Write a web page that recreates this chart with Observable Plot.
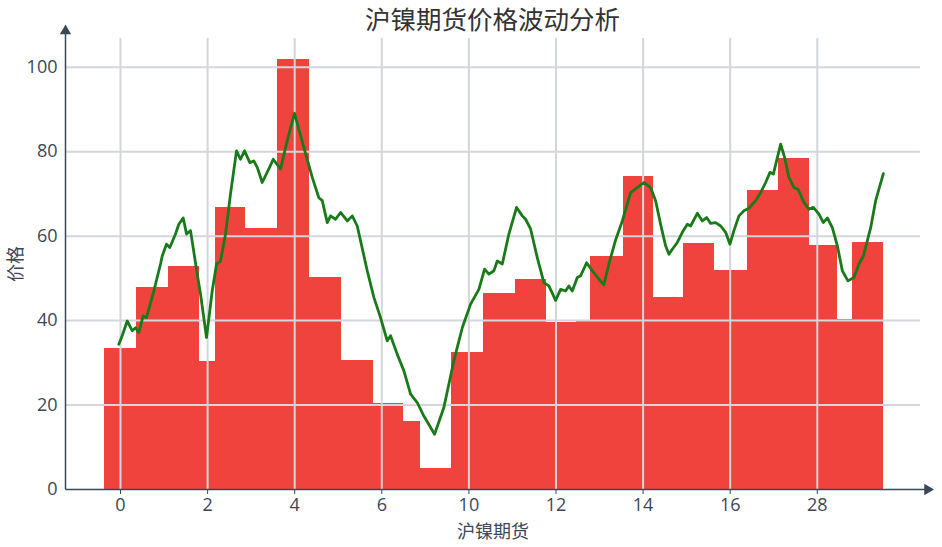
<!DOCTYPE html>
<html>
<head>
<meta charset="utf-8">
<script src="https://cdn.jsdelivr.net/npm/d3@7"></script>
<script src="https://cdn.jsdelivr.net/npm/@observablehq/plot@0.6"></script>
<style>
  html, body { margin: 0; padding: 0; background: #fff; }
  #wrap { position: relative; width: 942px; height: 547px; overflow: hidden; }
  #title { position: absolute; left: 65px; width: 855px; top: 1px; text-align: center;
    font-family: "Noto Sans CJK SC", "Noto Sans", sans-serif; font-weight: 400; font-size: 25.5px;
    line-height: 34px; color: #333; z-index: 2; }
  #chart { position: absolute; left: 0; top: 0; }
</style>
</head>
<body>
<div id="wrap">
  <div id="title">沪镍期货价格波动分析</div>
  <div id="chart"></div>
</div>
<script>
// ---- data ----
const xTicks = [0, 2, 4, 6, 8, 10, 12, 14, 16];
const xTickLabels = ["0", "2", "4", "6", "10", "12", "14", "16", "28"];
const yTicks = [0, 20, 40, 60, 80, 100];

const barStart = [-0.367, 0.367, 1.109, 1.814, 2.182, 2.871, 3.599, 4.348, 5.071, 5.811, 6.507, 6.890, 7.595, 8.344, 9.072, 9.784, 10.473, 10.795, 11.546, 12.248, 12.924, 13.649, 14.394, 15.120, 15.824, 16.474, 16.805];
const barEnd   = [0.367, 1.109, 1.814, 2.182, 2.871, 3.599, 4.348, 5.071, 5.811, 6.507, 6.890, 7.595, 8.344, 9.072, 9.784, 10.473, 10.795, 11.546, 12.248, 12.924, 13.649, 14.394, 15.120, 15.824, 16.474, 16.805, 17.531];
const barValue = [33.5, 47.8, 52.8, 30.2, 66.8, 61.8, 101.8, 50.1, 30.5, 20.3, 16.0, 5.0, 32.4, 46.4, 49.8, 39.5, 39.9, 55.2, 74.1, 45.4, 58.3, 51.9, 70.7, 78.4, 57.7, 40.3, 58.6];

const lineX = [-0.039, 0.039, 0.154, 0.269, 0.345, 0.420, 0.521, 0.597, 0.765, 0.919, 0.958, 1.056, 1.132, 1.263, 1.339, 1.440, 1.516, 1.608, 1.762, 1.837, 1.975, 2.106, 2.205, 2.297, 2.412, 2.526, 2.664, 2.756, 2.848, 2.970, 3.062, 3.140, 3.254, 3.330, 3.406, 3.507, 3.675, 3.829, 3.996,
  4.210, 4.403, 4.554, 4.633, 4.748, 4.823, 4.938, 5.053, 5.207, 5.322, 5.436, 5.666, 5.818, 5.971, 6.125, 6.201, 6.355, 6.507, 6.661, 6.814, 6.966, 7.212, 7.425, 7.655, 7.848, 8.039,
  8.229, 8.360, 8.459, 8.574, 8.652, 8.767, 8.918, 9.095, 9.226, 9.302, 9.417, 9.570, 9.722, 9.837, 9.991, 10.106, 10.220, 10.296, 10.374, 10.489, 10.565, 10.703, 10.834, 10.985, 11.100, 11.215, 11.369, 11.523, 11.713, 11.867, 12.019, 12.173,
  12.287, 12.402, 12.517, 12.593, 12.671, 12.786, 12.901, 13.016, 13.091, 13.245, 13.360, 13.459, 13.551, 13.666, 13.781, 13.896, 13.994, 14.086, 14.201, 14.316, 14.430, 14.584, 14.699, 14.814, 14.913, 14.991, 15.083, 15.159, 15.251, 15.349, 15.464, 15.556, 15.694, 15.809, 15.909, 16.038, 16.139, 16.231, 16.346, 16.461, 16.575, 16.704, 16.842, 16.957, 17.058, 17.226, 17.340, 17.517];
const lineY = [34.4, 36.4, 39.9, 37.6, 38.3, 37.2, 41.1, 40.7, 47.0, 53.4, 55.3, 58.1, 57.3, 60.5, 62.8, 64.3, 60.5, 61.3, 51.0, 46.3, 36.0, 47.0, 53.4, 54.1, 60.5, 70.0, 80.2, 78.2, 80.2, 77.4, 77.8, 76.3, 72.7, 74.3, 75.9, 78.2, 75.9, 82.6, 89.1,
  81.0, 73.9, 69.1, 68.4, 63.2, 64.8, 64.0, 65.6, 63.6, 64.8, 62.4, 51.8, 45.5, 40.7, 35.2, 36.4, 32.0, 28.1, 22.6, 20.6, 17.4, 13.1, 19.4, 30.5, 38.3, 43.9,
  47.4, 52.2, 51.0, 51.8, 54.1, 53.4, 60.5, 66.8, 64.8, 64.0, 61.7, 54.9, 49.0, 48.2, 44.8, 47.4, 47.0, 48.2, 47.0, 50.2, 50.6, 53.7, 51.8, 49.8, 48.5, 53.4, 59.1, 63.6, 70.3, 71.5, 72.7, 71.5,
  68.4, 62.8, 57.7, 55.7, 56.9, 58.5, 60.9, 62.8, 62.4, 65.4, 63.6, 64.4, 63.0, 63.2, 62.4, 60.9, 58.1, 61.3, 64.8, 66.0, 66.6, 68.4, 70.3, 72.7, 75.1, 74.7, 78.6, 81.8, 78.6, 73.9, 71.5, 71.1, 68.0, 66.4, 66.8, 65.2, 63.2, 64.3, 62.0, 57.7, 51.8, 49.4, 50.2, 53.4, 55.3, 62.0, 68.4, 74.8];

// ---- build ----
const bars = barValue.map((v, i) => ({x1: barStart[i], x2: barEnd[i], y: v}));
const pts = lineX.map((x, i) => ({x, y: lineY[i]}));

const xMin = -1.263, xMax = 18.37, yMax = 106.8;
const axisColor = "#3b4757";
const gridColor = "#d3d6da";

const chart = Plot.plot({
  width: 942,
  height: 547,
  marginLeft: 65,
  marginRight: 22,
  marginTop: 38,
  marginBottom: 58,
  style: {fontFamily: "'Open Sans', 'Noto Sans CJK SC', sans-serif", fontSize: "18px", color: axisColor, background: "transparent", overflow: "visible"},
  x: {domain: [xMin, xMax]},
  y: {domain: [0, yMax]},
  marks: [
    Plot.rect(bars, {x1: "x1", x2: "x2", y1: () => 0, y2: "y", fill: "#f0433e", shapeRendering: "crispEdges"}),
    Plot.gridX(xTicks, {stroke: gridColor, strokeOpacity: 1, strokeWidth: 2}),
    Plot.gridY(yTicks.filter(d => d > 0), {stroke: gridColor, strokeOpacity: 1, strokeWidth: 2}),
    Plot.line(pts, {x: "x", y: "y", stroke: "#187a18", strokeWidth: 2.8, strokeLinejoin: "round", strokeLinecap: "round"}),
    Plot.link([{a: xMin, b: 0, c: xMin, d: 109.3}], {x1: "a", y1: "b", x2: "c", y2: "d", stroke: axisColor, strokeWidth: 1.5}),
    Plot.link([{a: xMin, b: 0, c: 18.6, d: 0}], {x1: "a", y1: "b", x2: "c", y2: "d", stroke: axisColor, strokeWidth: 1.5}),
    Plot.dot([{x: xMin, y: 109.3}], {x: "x", y: "y", symbol: "triangle", r: 4.2, fill: axisColor, stroke: null, dy: 3}),
    Plot.dot([{x: 18.6, y: 0}], {x: "x", y: "y", symbol: "triangle", r: 4.2, fill: axisColor, stroke: null, rotate: 90, dx: -3}),
    Plot.axisX(xTicks, {tickFormat: d => xTickLabels[xTicks.indexOf(d)], tickSize: 5, tickPadding: 4, stroke: axisColor,
      label: "沪镍期货", labelAnchor: "center", labelArrow: "none", labelOffset: 48}),
    Plot.axisY(yTicks, {tickSize: 0, tickPadding: 8,
      label: "价格", labelAnchor: "center", labelArrow: "none", labelOffset: 56})
  ]
});
document.getElementById("chart").appendChild(chart);
</script>
</body>
</html>
